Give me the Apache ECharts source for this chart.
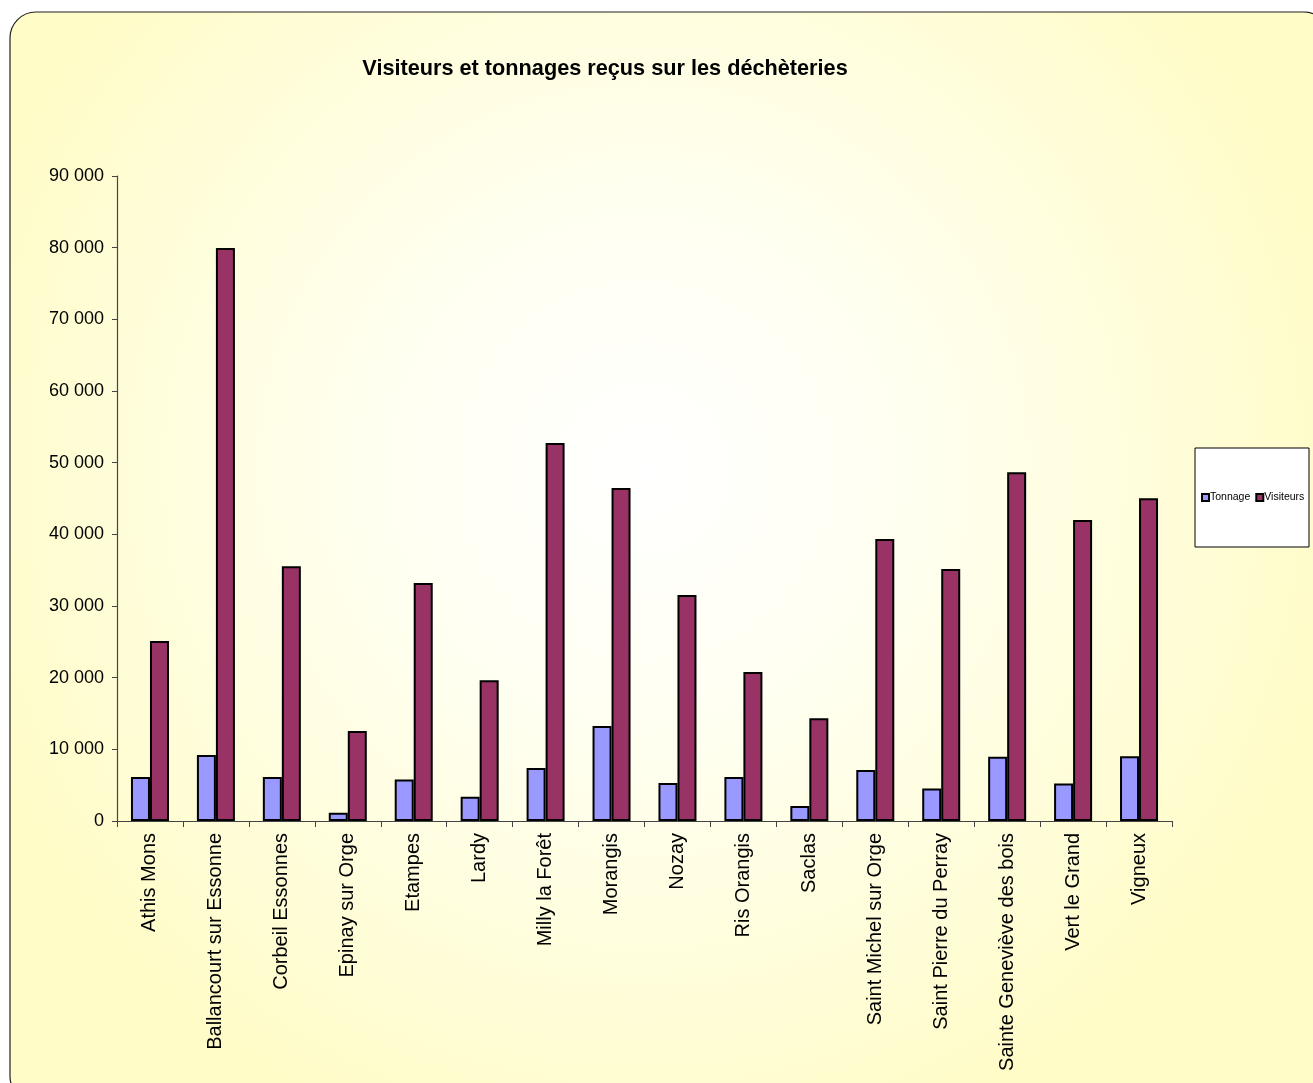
<!DOCTYPE html>
<html><head><meta charset="utf-8">
<script src="https://cdn.jsdelivr.net/npm/echarts@6/dist/echarts.min.js"></script>
<style>html,body{margin:0;padding:0;background:#fff;}#c{width:1313px;height:1083px;}</style>
</head><body><div id="c"></div>
<script>
var categories = ["Athis Mons","Ballancourt sur Essonne","Corbeil Essonnes","Epinay sur Orge","Etampes","Lardy","Milly la Forêt","Morangis","Nozay","Ris Orangis","Saclas","Saint Michel sur Orge","Saint Pierre du Perray","Sainte Geneviève des bois","Vert le Grand","Vigneux"];
var tonnage = [6150, 9200, 6150, 1150, 5800, 3400, 7400, 13250, 5300, 6150, 2100, 7100, 4550, 8950, 5250, 9050];
var visiteurs = [25100, 79950, 35550, 12550, 33200, 19650, 52750, 46450, 31550, 20800, 14350, 39350, 35150, 48650, 42000, 45050];
var yTicks = {min: 0, max: 90000, interval: 10000};

var chart = echarts.init(document.getElementById('c'));
var font = '"Liberation Sans", Arial, sans-serif';
function fmt(v){ return String(v).replace(/\B(?=(\d{3})+(?!\d))/g, ' '); }
chart.setOption({
  animation: false,
  textStyle: {fontFamily: font},
  graphic: [
    {type: 'rect', z: -10, silent: true,
     shape: {x: 10, y: 12, width: 1320, height: 1090, r: 26},
     style: {fill: {type: 'radial', x: 0.48, y: 0.42, r: 0.65,
              colorStops: [{offset: 0, color: '#FFFFFF'}, {offset: 0.35, color: '#FFFFF2'}, {offset: 1, color: '#FFFCC8'}]},
             stroke: '#222', lineWidth: 1.2}},
    {type: 'rect', z: 3, silent: true,
     shape: {x: 1195, y: 448, width: 114, height: 99},
     style: {fill: '#FFFFFF', stroke: '#000', lineWidth: 1}}
  ],
  title: {
    text: 'Visiteurs et tonnages reçus sur les déchèteries',
    left: 600, top: 53, textAlign: 'center',
    textStyle: {fontFamily: font, fontSize: 21.7, fontWeight: 'bold', color: '#000'}
  },
  legend: {
    left: 1201, top: 492, z: 5,
    itemWidth: 7, itemHeight: 7, itemGap: 5, padding: 0,
    icon: 'rect',
    textStyle: {fontFamily: font, fontSize: 10.5, color: '#000', padding: [0,0,0,-4]},
    data: ['Tonnage', 'Visiteurs']
  },
  grid: {left: 117, right: 141, top: 176, bottom: 262, containLabel: false},
  xAxis: {
    type: 'category', data: categories,
    axisLine: {lineStyle: {color: '#444', width: 1.2}},
    axisTick: {show: true, alignWithLabel: false, length: 6, lineStyle: {color: '#444'}},
    axisLabel: {interval: 0, rotate: 90, margin: 12, fontSize: 20, color: '#000', fontFamily: font}
  },
  yAxis: {
    type: 'value', min: yTicks.min, max: yTicks.max, interval: yTicks.interval,
    axisLine: {show: true, lineStyle: {color: '#444', width: 1.2}},
    axisTick: {show: true, length: 5, lineStyle: {color: '#444'}},
    splitLine: {show: false},
    axisLabel: {fontSize: 18, color: '#000', margin: 13, formatter: fmt, fontFamily: font}
  },
  series: [
    {name: 'Tonnage', type: 'bar', data: tonnage, barWidth: 19, barGap: '0%',
     itemStyle: {color: '#9999FF', borderColor: '#000', borderWidth: 2}},
    {name: 'Visiteurs', type: 'bar', data: visiteurs, barWidth: 19, barGap: '0%',
     itemStyle: {color: '#993366', borderColor: '#000', borderWidth: 2}}
  ]
});
</script></body></html>
